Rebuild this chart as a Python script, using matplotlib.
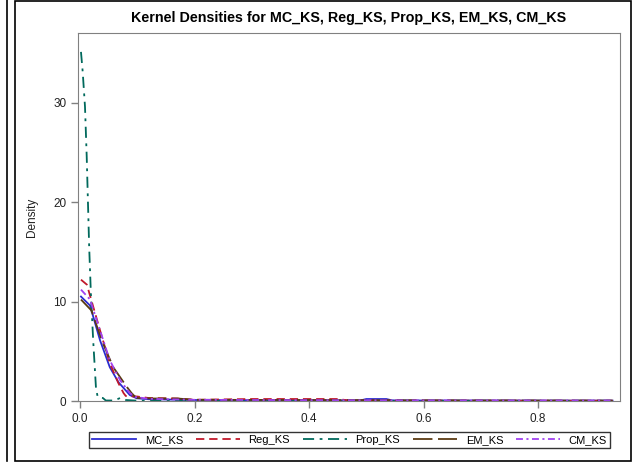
import matplotlib
matplotlib.use("Agg")
import matplotlib.pyplot as plt
from matplotlib.lines import Line2D
from matplotlib.patches import Rectangle

plt.rcParams["font.family"] = ["Liberation Sans", "DejaVu Sans"]
plt.rcParams["lines.scale_dashes"] = False

# density curves (x = KS statistic, y = density)
mc_x = [0.0017, 0.0175, 0.035, 0.052, 0.067, 0.087, 0.099, 0.12, 0.15, 0.2, 0.3, 0.4,
        0.49, 0.5, 0.535, 0.545, 0.6, 0.7, 0.8, 0.93]
mc_y = [10.5, 9.6, 6.1, 3.4, 1.9, 0.6, 0.27, 0.18, 0.15, 0.1, 0.08, 0.07,
        0.06, 0.2, 0.2, 0.06, 0.05, 0.05, 0.04, 0.04]

reg_x = [0.0017, 0.012, 0.023, 0.038, 0.052, 0.067, 0.076, 0.08, 0.1, 0.12, 0.17, 0.2,
         0.3, 0.45, 0.47, 0.6, 0.8, 0.93]
reg_y = [12.2, 11.7, 9.5, 6.5, 3.8, 1.8, 0.8, 0.5, 0.45, 0.3, 0.25, 0.12,
         0.2, 0.2, 0.05, 0.04, 0.03, 0.03]

prop_x = [0.0017, 0.0047, 0.0087, 0.0117, 0.016, 0.019, 0.023, 0.028, 0.031, 0.04, 0.045,
          0.06, 0.07, 0.08, 0.1, 0.2, 0.4, 0.6, 0.8, 0.93]
prop_y = [35.1, 33.1, 29.6, 24.6, 15.5, 10.8, 6.1, 1.2, 0.4, 0.3, 0.05,
          0.05, 0.3, 0.1, 0.03, 0.02, 0.02, 0.02, 0.02, 0.02]

em_x = [0.0017, 0.02, 0.038, 0.058, 0.082, 0.09, 0.095, 0.1, 0.13, 0.17, 0.2, 0.4,
        0.6, 0.8, 0.93]
em_y = [10.2, 9.1, 6.1, 3.4, 1.4, 0.8, 0.5, 0.3, 0.25, 0.25, 0.12, 0.1,
        0.06, 0.05, 0.04]

cm_x = [0.0017, 0.0175, 0.035, 0.052, 0.07, 0.087, 0.097, 0.12, 0.15, 0.2, 0.3, 0.4,
        0.6, 0.8, 0.93]
cm_y = [11.2, 10.2, 7.1, 4.1, 2.1, 0.8, 0.4, 0.22, 0.18, 0.12, 0.1, 0.08,
        0.06, 0.05, 0.05]

x_ticks = [0.0, 0.2, 0.4, 0.6, 0.8]
y_ticks = [0, 10, 20, 30]

fig = plt.figure(figsize=(6.33, 4.63), dpi=100)
ax = fig.add_axes([78 / 633, 1 - 401 / 463, (620 - 78) / 633, (401 - 33) / 463])

ax.plot(mc_x, mc_y, color="#2b2bd0", lw=1.3, label="MC_KS")
ax.plot(reg_x, reg_y, color="#c0182a", lw=1.3, dashes=(6, 3.5), label="Reg_KS")
ax.plot(prop_x, prop_y, color="#00695c", lw=1.3, dashes=(8, 4, 2, 4), label="Prop_KS")
ax.plot(em_x, em_y, color="#5a3a12", lw=1.3, dashes=(14, 4), label="EM_KS")
ax.plot(cm_x, cm_y, color="#a040f0", lw=1.3, dashes=(5, 2.5, 1.5, 2.5), label="CM_KS")

ax.set_xlim(-0.0035, 0.943)
ax.set_ylim(0, 37)
ax.set_xticks(x_ticks)
ax.set_xticklabels([f"{v:.1f}" for v in x_ticks])
ax.set_yticks(y_ticks)
for s in ax.spines.values():
    s.set_color("#808080")
ax.tick_params(colors="#808080", labelcolor="#222222", labelsize=8.5, length=5, width=1)
ax.set_ylabel("Density", fontsize=8.5, color="#222222", labelpad=11)
ax.set_title("Kernel Densities for MC_KS, Reg_KS, Prop_KS, EM_KS, CM_KS",
             fontsize=10.3, fontweight="bold", pad=8)

leg = fig.legend(loc="center", ncol=5, bbox_to_anchor=((90 + 609) / 2 / 633, 1 - 440 / 463),
                 fontsize=8, frameon=True, fancybox=False, handlelength=4.0,
                 columnspacing=1.15, handletextpad=0.75, borderpad=0.25)
leg.get_frame().set_edgecolor("black")
leg.get_frame().set_linewidth(1)

# outer frames
fig.add_artist(Rectangle((15 / 633, 1 - 461 / 463), (631 - 15) / 633, 460 / 463,
                         transform=fig.transFigure, fill=False, edgecolor="black", lw=1.2))
fig.add_artist(Line2D([7 / 633, 7 / 633], [1 - 461 / 463, 1], transform=fig.transFigure,
                      color="black", lw=1.2))

fig.savefig("out.png", dpi=100)
